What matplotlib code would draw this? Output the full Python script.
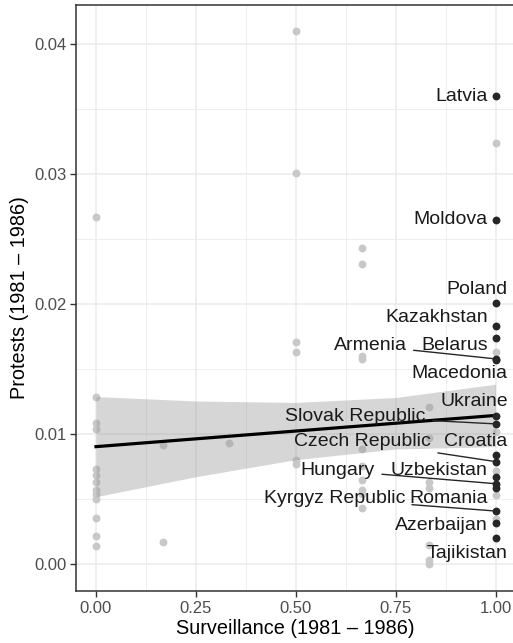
import matplotlib
matplotlib.use("Agg")
import matplotlib.pyplot as plt

plt.rcParams["font.family"] = ["Liberation Sans", "DejaVu Sans"]

# countries without a label (grey points)
other_surv = [0.0, 0.0, 0.0, 0.0, 0.0, 0.0, 0.0, 0.0, 0.0, 0.0, 0.0, 0.0, 0.0,
              0.1667, 0.1667,
              0.3333,
              0.5, 0.5, 0.5, 0.5, 0.5, 0.5,
              0.6667, 0.6667, 0.6667, 0.6667, 0.6667, 0.6667, 0.6667, 0.6667, 0.6667, 0.6667,
              0.8333, 0.8333, 0.8333, 0.8333, 0.8333, 0.8333, 0.8333,
              1.0, 1.0, 1.0, 1.0, 1.0, 1.0]
other_prot = [0.0267, 0.0129, 0.0109, 0.0104, 0.0073, 0.0069, 0.0063, 0.0057, 0.0054, 0.0050, 0.0036, 0.0022, 0.0014,
              0.0092, 0.0017,
              0.0093,
              0.0410, 0.0301, 0.0171, 0.0163, 0.0080, 0.0077,
              0.0243, 0.0231, 0.0160, 0.0158, 0.0089, 0.0076, 0.0065, 0.0057, 0.0054, 0.0043,
              0.0121, 0.0097, 0.0063, 0.0059, 0.0015, 0.0003, 0.0000,
              0.0324, 0.0163, 0.0102, 0.0072, 0.0053, 0.0035]

# labelled countries (dark points)
countries = ["Latvia", "Moldova", "Poland", "Kazakhstan", "Belarus", "Armenia", "Macedonia",
             "Ukraine", "Slovak Republic", "Croatia", "Czech Republic", "Uzbekistan", "Hungary",
             "Romania", "Kyrgyz Republic", "Azerbaijan", "Tajikistan"]
lab_surv = [1.0, 1.0, 1.0, 1.0, 1.0, 1.0, 1.0, 1.0, 1.0, 1.0, 1.0, 1.0, 1.0, 1.0, 1.0, 1.0, 1.0]
lab_prot = [0.0360, 0.0265, 0.0201, 0.0183, 0.0174, 0.0158, 0.0157,
            0.0114, 0.0108, 0.0084, 0.0079, 0.0067, 0.0062,
            0.0059, 0.0041, 0.0032, 0.0020]

# linear fit and its 95% band
smooth_x = [0.0, 0.25, 0.5, 0.75, 1.0]
smooth_fit = [0.00905, 0.00965, 0.01025, 0.01085, 0.01145]
smooth_lo = [0.0052, 0.00674, 0.00805, 0.00887, 0.00905]
smooth_hi = [0.0129, 0.01256, 0.01245, 0.01283, 0.01385]

# where ggrepel put the labels (right edge x, centre y) -- layout only
label_x = [0.9805, 0.9805, 1.0306, 0.9805, 0.9805, 0.7777, 1.0306,
           1.0306, 0.8253, 1.0306, 0.8385, 0.9805, 0.6984,
           0.9805, 0.7735, 0.9805, 1.0306]
label_y = [0.0360, 0.0265, 0.02114, 0.01899, 0.01681, 0.01681, 0.01464,
           0.01251, 0.01136, 0.00944, 0.00944, 0.00721, 0.00721,
           0.00504, 0.00504, 0.00297, 0.00082]
with_segment = {"Armenia", "Slovak Republic", "Czech Republic", "Hungary",
                "Kyrgyz Republic", "Azerbaijan"}

fig = plt.figure(figsize=(5.13, 6.43), dpi=100)
ax = fig.add_axes([76 / 513, 52 / 643, 439.5 / 513, 586 / 643])

ax.scatter(other_surv, other_prot, s=32, color="#C8C8C8", linewidths=0, zorder=2)
ax.fill_between(smooth_x, smooth_lo, smooth_hi, color="#999999", alpha=0.4,
                linewidth=0, zorder=3)
ax.plot(smooth_x, smooth_fit, color="black", lw=2.3, zorder=4)
ax.scatter(lab_surv, lab_prot, s=32, color="#262626", linewidths=0, zorder=5)

for name, px, py, tx, ty in zip(countries, lab_surv, lab_prot, label_x, label_y):
    if name in with_segment:
        ax.annotate(name, xy=(px, py), xytext=(tx, ty), ha="right", va="center",
                    fontsize=14, color="#1a1a1a", zorder=6,
                    arrowprops=dict(arrowstyle="-", color="#262626", lw=1.0,
                                    shrinkA=3, shrinkB=2))
    else:
        ax.text(tx, ty, name, ha="right", va="center", fontsize=14,
                color="#1a1a1a", zorder=6)

ax.set_xlim(-0.05, 1.05)
ax.set_ylim(-0.00205, 0.04301)
ax.set_xticks([0, 0.25, 0.5, 0.75, 1.0])
ax.set_xticklabels(["0.00", "0.25", "0.50", "0.75", "1.00"])
ax.set_yticks([0, 0.01, 0.02, 0.03, 0.04])
ax.set_yticklabels(["0.00", "0.01", "0.02", "0.03", "0.04"])
ax.set_xticks([0.125, 0.375, 0.625, 0.875], minor=True)
ax.set_yticks([0.005, 0.015, 0.025, 0.035], minor=True)

ax.grid(which="major", color="#EBEBEB", lw=1.1, zorder=0)
ax.grid(which="minor", color="#EBEBEB", lw=0.6, zorder=0)
ax.set_axisbelow(True)
for sp in ax.spines.values():
    sp.set_color("#333333")
    sp.set_linewidth(1.1)
ax.tick_params(which="major", length=4, width=1.0, color="#333333",
               labelsize=12, labelcolor="#4D4D4D", pad=3)
ax.tick_params(which="minor", length=0)

ax.set_xlabel("Surveillance (1981 \u2013 1986)", fontsize=14.3)
ax.set_ylabel("Protests (1981 \u2013 1986)", fontsize=14.3)
ax.xaxis.set_label_coords(0.5, -28 / 586)
ax.yaxis.set_label_coords(-47 / 439.5, 0.5)

fig.savefig("out.png", dpi=100)
